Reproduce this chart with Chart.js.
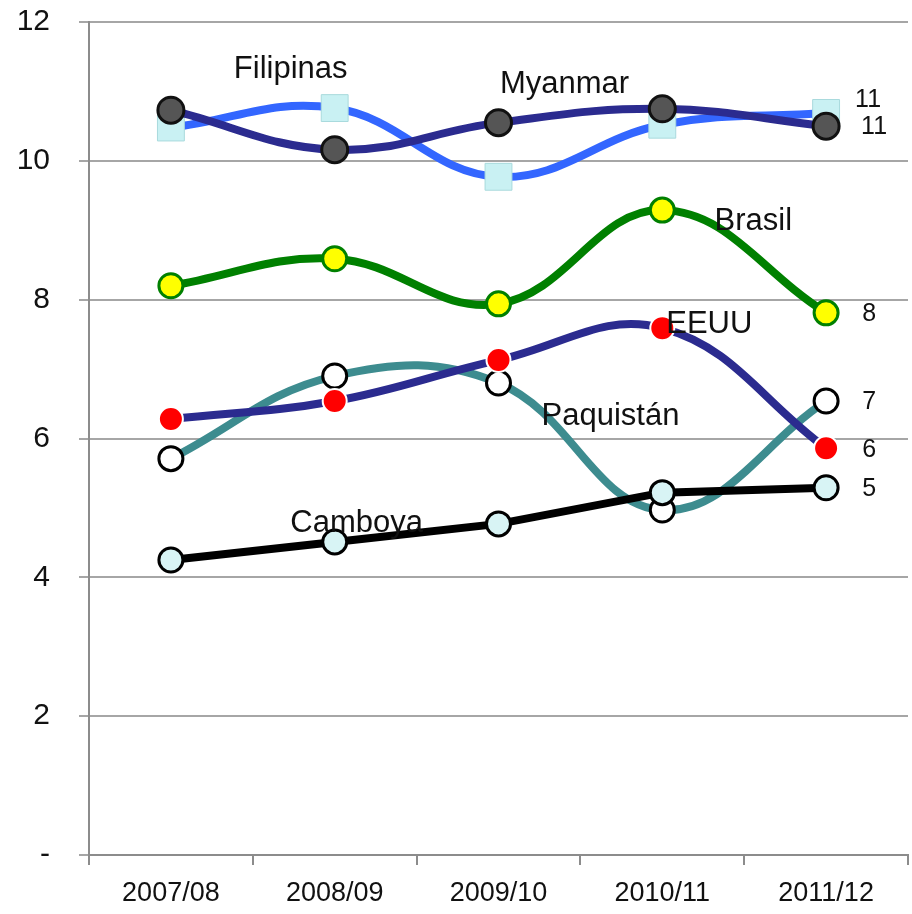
<!DOCTYPE html>
<html>
<head>
<meta charset="utf-8">
<script src="https://cdn.jsdelivr.net/npm/chart.js@4/dist/chart.umd.min.js"></script>
<style>
  html, body { margin: 0; padding: 0; background: #fff; }
  #wrap { width: 912px; height: 914px; }
</style>
</head>
<body>
<div id="wrap"><canvas id="chart" width="912" height="914"></canvas></div>
<script>
  const categories = ['2007/08', '2008/09', '2009/10', '2010/11', '2011/12'];
  const seriesNames = ['Myanmar', 'Filipinas', 'EEUU', 'Camboya', 'Brasil', 'Paquistán'];
  const myanmar   = [10.73, 10.16, 10.55, 10.75, 10.50];
  const filipinas = [10.48, 10.76, 9.77, 10.52, 10.69];
  const eeuu      = [6.28, 6.54, 7.13, 7.59, 5.86];
  const camboya   = [4.25, 4.51, 4.77, 5.22, 5.29];
  const brasil    = [8.20, 8.59, 7.94, 9.29, 7.81];
  const paquistan = [5.71, 6.90, 6.80, 4.97, 6.54];
  const yMin = 0, yMax = 12, yStep = 2;

  const FONT = '"Liberation Sans", Arial, sans-serif';

  // style per series: line, marker, where the name sits (anchor point + pixel nudge)
  const styles = [
    { data: myanmar, line: '#2b2b8f', fill: '#555555', border: '#111111', bw: 3, shape: 'circle', r: 13,
      name: { idx: 2, dx: 66, dy: -30 }, end: { dx: 48, dy: 1 }, tension: 0.4 },
    { data: filipinas, line: '#3366ff', fill: '#c9f1f3', border: '#a9dadd', bw: 1, shape: 'rect', r: 19,
      name: { idx: 1, dx: -44, dy: -30 }, end: { dx: 42, dy: -13 }, tension: 0.4 },
    { data: eeuu, line: '#2b2b8f', fill: '#ff0000', border: '#ffffff', bw: 2, shape: 'circle', r: 12,
      name: { idx: 3, dx: 47, dy: 5 }, end: { dx: 43, dy: 2 }, tension: 0.4 },
    { data: camboya, line: '#000000', fill: '#d8f4f5', border: '#000000', bw: 3, shape: 'circle', r: 12,
      name: { idx: 1, dx: 22, dy: -10 }, end: { dx: 43, dy: 1 }, tension: 0 },
    { data: brasil, line: '#008000', fill: '#ffff00', border: '#008000', bw: 3, shape: 'circle', r: 12,
      name: { idx: 3, dx: 91, dy: 20 }, end: { dx: 43, dy: 1 }, tension: 0.4 },
    { data: paquistan, line: '#3d8c8f', fill: '#ffffff', border: '#000000', bw: 3, shape: 'circle', r: 12,
      name: { idx: 2, dx: 112, dy: 42 }, end: { dx: 43, dy: 1 }, tension: 0.4 },
  ];

  const seriesLabels = {
    id: 'seriesLabels',
    afterDatasetsDraw(chart) {
      const ctx = chart.ctx;
      ctx.save();
      ctx.fillStyle = '#111';
      chart.data.datasets.forEach((ds, i) => {
        const pts = chart.getDatasetMeta(i).data;
        const st = styles[i];
        // series name
        const p = pts[st.name.idx];
        ctx.font = '31px ' + FONT;
        ctx.textAlign = 'center';
        ctx.textBaseline = 'alphabetic';
        ctx.fillText(ds.label, p.x + st.name.dx, p.y + st.name.dy);
        // value of last point
        const last = pts[pts.length - 1];
        const v = ds.data[ds.data.length - 1];
        ctx.font = '25px ' + FONT;
        ctx.textBaseline = 'middle';
        ctx.fillText(String(Math.round(v)), last.x + st.end.dx, last.y + st.end.dy);
      });
      ctx.restore();
    }
  };

  new Chart(document.getElementById('chart'), {
    type: 'line',
    data: {
      labels: categories,
      datasets: styles.map((st, i) => ({
        label: seriesNames[i],
        data: st.data,
        borderColor: st.line,
        borderWidth: 8,
        tension: st.tension,
        fill: false,
        pointStyle: st.shape,
        pointRadius: st.r,
        pointBackgroundColor: st.fill,
        pointBorderColor: st.border,
        pointBorderWidth: st.bw,
      })),
    },
    options: {
      responsive: false,
      devicePixelRatio: 1,
      animation: false,
      layout: { autoPadding: false, padding: { top: 22, right: 4, left: 0, bottom: 0 } },
      plugins: { legend: { display: false }, tooltip: { enabled: false } },
      scales: {
        x: {
          offset: true,
          grid: { offset: true, drawOnChartArea: false, drawTicks: true, tickLength: 10, color: '#8c8c8c', lineWidth: 2 },
          border: { color: '#8c8c8c', width: 2 },
          ticks: { color: '#111', font: { family: FONT, size: 27 }, padding: 12, maxRotation: 0 },
          afterFit(scale) { scale.height = 59; scale.paddingLeft = 0; scale.paddingRight = 0; },
        },
        y: {
          min: yMin,
          max: yMax,
          grid: { color: '#a6a6a6', lineWidth: 2, tickLength: 10 },
          border: { color: '#8c8c8c', width: 2 },
          ticks: {
            stepSize: yStep,
            color: '#111',
            font: { family: FONT, size: 30 },
            padding: 29,
            callback: v => v === 0 ? '-' : v,
          },
          afterFit(scale) { scale.width = 89; scale.paddingTop = 0; scale.paddingBottom = 0; },
        },
      },
    },
    plugins: [seriesLabels],
  });
</script>
</body>
</html>
